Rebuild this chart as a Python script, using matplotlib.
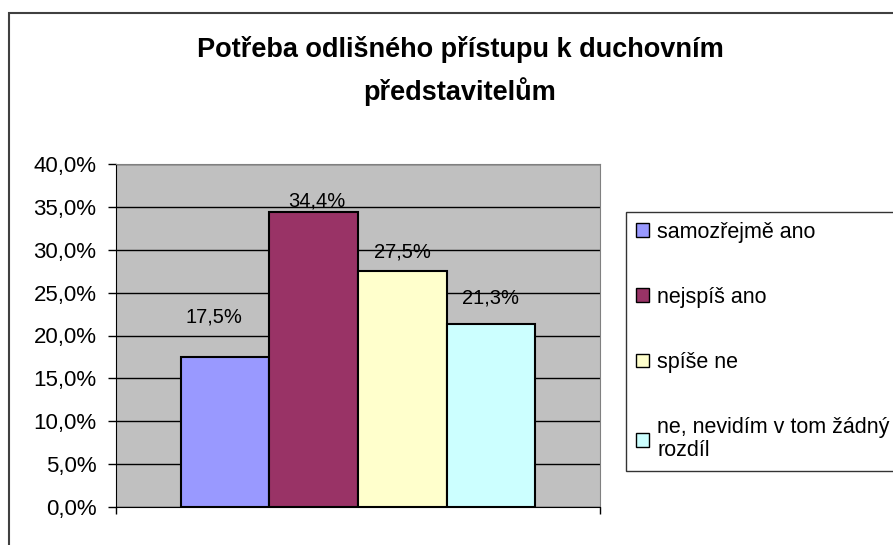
import numpy as np
import matplotlib
matplotlib.use('Agg')
import matplotlib.pyplot as plt
from matplotlib.patches import Patch, Rectangle
from matplotlib.ticker import FuncFormatter

plt.rcParams['font.family'] = ['Liberation Sans', 'DejaVu Sans']

# data
title = 'Potřeba odlišného přístupu k duchovním\npředstavitelům'
labels = ['samozřejmě ano', 'nejspíš ano', 'spíše ne', 'ne, nevidím v tom žádný\nrozdíl']
values = [17.5, 34.4, 27.5, 21.3]
colors = ['#9999FF', '#993366', '#FFFFCC', '#CCFFFF']
# manual label offsets (points), like the hand-placed Excel labels
label_offsets = [(-8, 29), (2, 8), (0, 14), (0, 19)]

fig = plt.figure(figsize=(8.93, 5.45), dpi=100)

# outer chart frame (cut off at right and bottom)
fig.patches.append(Rectangle((9 / 893, -0.1), 1.2, 1 - 13 / 545 + 0.1,
                             transform=fig.transFigure, fill=False,
                             edgecolor='#404040', linewidth=1.5))

ax = fig.add_axes([116 / 893, 1 - 507 / 545, 484 / 893, 343 / 545])
ax.set_facecolor('#C0C0C0')

x = np.arange(len(values))
ax.bar(x, values, width=1.0, color=colors, edgecolor='black', linewidth=1.5, zorder=3)

ax.set_ylim(0, 40)
ax.set_xlim(-0.5 - 0.73, len(values) - 0.5 + 0.73)
ax.set_yticks(np.arange(0, 40.1, 5))
ax.yaxis.set_major_formatter(FuncFormatter(lambda v, p: f'{v:.1f}%'.replace('.', ',')))
ax.grid(axis='y', color='black', linewidth=1, zorder=1)
ax.set_xticks(ax.get_xlim())
ax.set_xticklabels([])
ax.tick_params(axis='y', direction='out', length=6, width=1, labelsize=16, pad=8)
ax.tick_params(axis='x', direction='out', length=5, width=1)

for s in ['top', 'right']:
    ax.spines[s].set_color('#808080')
for s in ['left', 'bottom']:
    ax.spines[s].set_color('black')

for xi, v, off in zip(x, values, label_offsets):
    ax.annotate(f'{v:.1f}%'.replace('.', ','), (xi, v), xytext=off,
                textcoords='offset points', ha='center', va='center', fontsize=14.5,
                zorder=4)

fig.text(460 / 893, 1 - 36 / 545, title, ha='center', va='top',
         fontsize=19.5, fontweight='bold', linespacing=1.6)

handles = [Patch(facecolor=c, edgecolor='black', linewidth=1) for c in colors]
leg = fig.legend(handles, labels, loc='upper left', bbox_to_anchor=(626 / 893, 1 - 212 / 545),
                 fontsize=15.5, frameon=True, fancybox=False, shadow=False,
                 handlelength=0.6, handleheight=0.6, handletextpad=0.4,
                 labelspacing=2.05, borderpad=0.45, borderaxespad=0)
leg.get_frame().set_edgecolor('black')
leg.get_frame().set_linewidth(1)
for t in leg.get_texts():
    t.set_linespacing(1.15)

fig.savefig('out.png', dpi=100)
